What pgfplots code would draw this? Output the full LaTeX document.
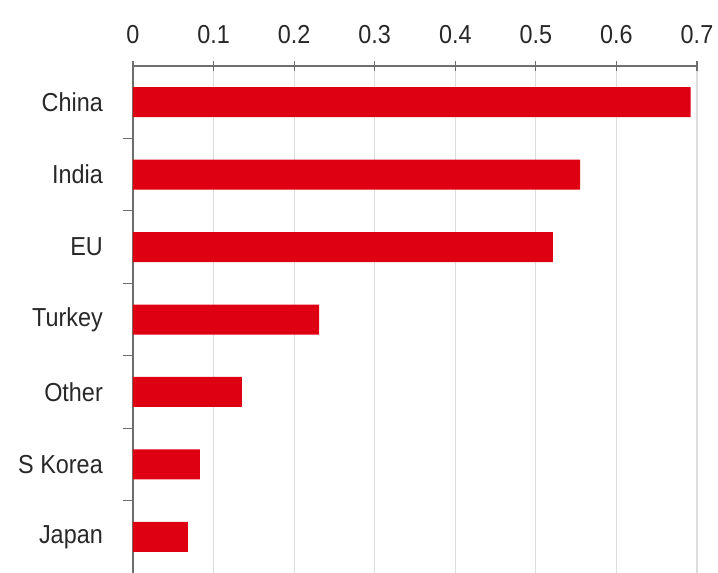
\documentclass[border=0pt]{standalone}
\usepackage{pgfplots}
\pgfplotsset{compat=1.18}
\usepackage{fontspec}
\setmainfont{Liberation Sans}[FakeStretch=0.9]
\definecolor{barred}{RGB}{222,0,18}
\definecolor{gridgray}{RGB}{220,220,220}
\definecolor{axisgray}{RGB}{110,110,110}
\definecolor{txt}{RGB}{40,40,40}
\begin{document}
\begin{tikzpicture}
\path[use as bounding box] (-133pt,0pt) rectangle (585pt,573pt);
\begin{axis}[
  at={(0pt,0pt)}, anchor=south west,
  scale only axis, width=564pt, height=507pt,
  clip=false,
  xbar, bar width=30pt,
  xmin=0, xmax=0.7, ymin=-0.5, ymax=6.5,
  y dir=reverse,
  axis x line*=top, axis y line*=left,
  x axis line style={-, draw=axisgray, line width=1.3pt},
  y axis line style={-, draw=axisgray, line width=1.3pt},
  xtick={0,0.1,...,0.7},
  xticklabels={0,0.1,0.2,0.3,0.4,0.5,0.6,0.7},
  tick align=center, major tick length=10pt,
  xtick style={draw=axisgray, line width=1.1pt},
  ytick={0,...,6},
  yticklabels={China,India,EU,Turkey,Other,S Korea,Japan},
  ytick style={draw=none},
  xmajorgrids, grid style={draw=gridgray, line width=1.2pt},
  ticklabel style={font=\fontsize{26}{30}\selectfont, text=txt, inner sep=0pt},
  xticklabel shift=17pt,
  yticklabel shift=25pt,
  /pgf/number format/assume math mode=true,
]
\addplot[fill=barred, draw=none] coordinates {
  (0.692,0) (0.555,1) (0.521,2) (0.231,3) (0.135,4) (0.083,5) (0.068,6)
};
\pgfplotsinvokeforeach{0.5,1.5,2.5,3.5,4.5,5.5}{
  \draw[axisgray, line width=1.1pt] (axis cs:0,#1) -- ++(-10pt,0pt);
}
\end{axis}
\end{tikzpicture}
\end{document}
